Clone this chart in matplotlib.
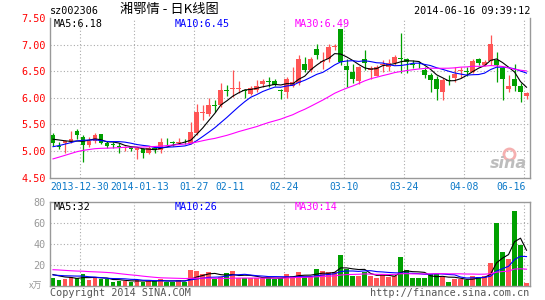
import numpy as np
import pandas as pd
import matplotlib
matplotlib.use("Agg")
import matplotlib.pyplot as plt


# --------- daily bars (sz002306) ---------

open_ = [5.29, 5.10, 5.15, 5.16, 5.37, 5.26, 5.11, 5.18, 5.31, 5.14,
         5.12, 5.10, 5.05, 5.07, 5.02, 5.03, 4.96, 5.06, 5.01, 5.17,
         5.16, 5.15, 5.19, 5.14, 5.33, 5.72, 5.70, 5.87, 5.87, 6.14,
         6.16, 6.16, 6.14, 6.07, 6.15, 6.25, 6.31, 6.32, 6.14, 6.11,
         6.22, 6.28, 6.64, 6.52, 6.91, 6.67, 6.72, 6.96, 7.29, 6.59,
         6.49, 6.32, 6.72, 6.53, 6.41, 6.62, 6.58, 6.66, 6.75, 6.72,
         6.64, 6.62, 6.53, 6.42, 6.36, 6.11, 6.34, 6.38, 6.50, 6.50,
         6.49, 6.73, 6.61, 6.69, 6.71, 6.56, 6.17, 6.36, 6.22, 6.03]
close = [5.14, 5.08, 5.18, 5.23, 5.30, 5.12, 5.18, 5.30, 5.15, 5.10,
         5.11, 5.08, 5.08, 5.03, 5.05, 4.96, 5.05, 5.02, 5.17, 5.16,
         5.15, 5.17, 5.18, 5.35, 5.73, 5.74, 5.86, 5.85, 6.14, 6.12,
         6.18, 6.18, 6.12, 6.18, 6.23, 6.32, 6.29, 6.24, 6.12, 6.36,
         6.30, 6.72, 6.53, 6.72, 6.80, 6.69, 6.96, 6.98, 6.68, 6.53,
         6.36, 6.58, 6.66, 6.56, 6.58, 6.64, 6.66, 6.77, 6.73, 6.68,
         6.62, 6.61, 6.42, 6.34, 6.17, 6.34, 6.32, 6.44, 6.52, 6.48,
         6.69, 6.65, 6.68, 7.01, 6.62, 6.35, 6.22, 6.22, 6.11, 6.09]
high = [5.34, 5.17, 5.20, 5.37, 5.41, 5.30, 5.26, 5.33, 5.32, 5.18,
        5.16, 5.14, 5.10, 5.09, 5.07, 5.05, 5.09, 5.08, 5.25, 5.25,
        5.19, 5.24, 5.23, 5.54, 5.89, 5.86, 6.00, 5.95, 6.27, 6.24,
        6.52, 6.31, 6.17, 6.22, 6.33, 6.36, 6.39, 6.35, 6.16, 6.39,
        6.58, 6.80, 6.77, 6.77, 7.01, 6.86, 7.02, 7.02, 7.29, 6.72,
        6.64, 6.60, 6.90, 6.60, 6.61, 6.71, 6.72, 6.80, 7.21, 6.74,
        6.71, 6.70, 6.57, 6.46, 6.40, 6.38, 6.42, 6.57, 6.57, 6.57,
        6.72, 6.74, 6.71, 7.18, 6.86, 6.57, 6.42, 6.63, 6.27, 6.10]
low = [5.10, 5.04, 4.96, 5.14, 5.22, 4.79, 5.08, 5.15, 5.13, 5.05,
       5.05, 4.97, 5.00, 5.00, 4.85, 4.87, 4.94, 4.96, 4.97, 5.10,
       5.10, 5.13, 5.13, 5.13, 5.30, 5.58, 5.66, 5.73, 5.83, 6.04,
       6.02, 6.08, 6.00, 6.05, 6.10, 6.21, 6.20, 6.22, 5.97, 6.00,
       6.20, 6.24, 6.49, 6.48, 6.72, 6.55, 6.68, 6.90, 6.61, 6.20,
       6.27, 6.25, 6.52, 6.36, 6.40, 6.49, 6.50, 6.62, 6.46, 6.46,
       6.56, 6.56, 6.37, 6.11, 5.96, 5.96, 6.24, 6.29, 6.38, 6.40,
       6.46, 6.62, 6.60, 6.62, 6.30, 5.96, 6.11, 6.13, 5.92, 5.98]
volume = [7.3, 5.7, 6.7, 8.9, 7.3, 11.1, 5.7, 7.9, 6.7, 6.3,
          4.1, 5.1, 4.8, 4.1, 5.7, 4.1, 4.8, 4.8, 6.3, 4.1,
          4.1, 5.4, 4.1, 14.9, 14.3, 11.1, 13.0, 6.3, 8.9, 12.1,
          14.3, 7.9, 7.9, 7.9, 7.9, 7.9, 7.9, 6.3, 7.9, 11.4,
          9.8, 13.7, 8.3, 8.3, 16.2, 14.3, 13.0, 13.0, 29.2, 16.2,
          9.8, 9.8, 13.7, 9.8, 7.3, 11.1, 8.3, 9.8, 27.3, 15.2,
          7.3, 7.3, 7.3, 11.1, 11.1, 8.9, 3.5, 6.7, 6.7, 5.7,
          9.5, 8.9, 9.8, 21.6, 59.7, 32.1, 25.4, 70.8, 38.4, 2.5]

# sessions before the first bar, estimated from where the MA lines start
prev_close = [4.10, 4.15, 4.20, 4.28, 4.38, 4.70, 4.82, 4.95, 5.02, 4.98,
              4.92, 4.88, 4.95, 5.00, 4.93, 4.86, 4.90, 4.95, 4.88, 4.85,
              4.88, 4.90, 4.95, 4.98, 4.99, 5.15, 5.26, 5.28, 5.27]
prev_volume = [14, 18, 20, 16, 15, 17, 15, 14, 16, 15,
               26, 24, 22, 21, 25, 22, 21, 20,
               9, 9, 10, 10, 10, 9, 11, 12, 12, 11, 12]

tick_idx = [5, 14, 24, 30, 39, 49, 59, 69, 79]
tick_text = ["2013-12-30", "2014-01-13", "01-27", "02-11", "02-24",
             "03-10", "03-24", "04-08", "06-16"]
grid_idx = [5, 14, 24, 39, 49, 59, 69, 79]

price_ticks = [4.5, 5.0, 5.5, 6.0, 6.5, 7.0, 7.5]
vol_ticks = [20, 40, 60, 80]

ma_periods = [5, 10, 30]
ma_colors = ["#000000", "#0000FF", "#FF00FF"]
ma_price_text = ["6.18", "6.45", "6.49"]
ma_vol_text = ["32", "26", "14"]

RED = "#FF5555"
GREEN = "#00A000"
GRID = "#AAAAAA"
FRAME = "#999999"
MONO = "DejaVu Sans Mono"
CJK = ["Noto Sans CJK SC", "DejaVu Sans"]

# --------- derived series ---------

n = len(close)
x = np.arange(n)
o = np.array(open_)
c = np.array(close)
up = c >= o
colors = np.where(up, RED, GREEN)

c_all = pd.Series(prev_close + close)
v_all = pd.Series(prev_volume + volume)
k0 = len(prev_close)
ma_price = [c_all.rolling(p).mean().values[k0:] for p in ma_periods]
ma_vol = [v_all.rolling(p).mean().values[k0:] for p in ma_periods]

# --------- figure ---------

W, H = 545, 300
fig = plt.figure(figsize=(W / 100, H / 100), dpi=100)
fig.patch.set_facecolor("white")


def box(l, t, r, b):
    return [l / W, 1 - b / H, (r - l) / W, (b - t) / H]


ax = fig.add_axes(box(50, 18, 529.5, 177.5))
axv = fig.add_axes(box(50, 201.5, 529.5, 286))

for a in (ax, axv):
    a.set_xlim(-0.5, n - 0.5)
    for s in a.spines.values():
        s.set_color(FRAME)
        s.set_linewidth(1.0)
    a.tick_params(length=0)
    a.set_xticks([])
    for g in grid_idx:
        a.axvline(g - 0.5, color=GRID, lw=0.8, ls=(0, (1, 2)), zorder=0)
ax.spines["top"].set_visible(False)

# price panel
ax.set_ylim(4.5, 7.5)
for p in price_ticks[1:-1]:
    ax.axhline(p, color=GRID, lw=0.8, ls=(0, (1, 2)), zorder=0)
ax.vlines(x, low, high, colors=colors, lw=0.9, zorder=2)
body_lo = np.minimum(o, c)
body_h = np.maximum(np.abs(c - o), 0.014)
ax.bar(x, body_h, bottom=body_lo, width=0.8, color=colors, lw=0, zorder=3)
for m, col in zip(ma_price, ma_colors):
    ax.plot(x, m, color=col, lw=0.8, zorder=4)

ax.set_yticks(price_ticks)
ax.set_yticklabels([f"{p:.2f}" for p in price_ticks], color="#FF0000",
                   fontfamily=MONO, fontsize=7.3)
ax.tick_params(axis="y", pad=3)

# date labels; the first two sit side by side at the left edge
for k, (t, lab) in enumerate(zip(tick_idx, tick_text)):
    ha, xp = "center", t - 0.5
    if k == 0:
        ha, xp = "left", -0.5
    elif k == 1:
        ha, xp = "left", 9.6
    elif t == n - 1:
        ha, xp = "right", n - 1.2
    ax.text(xp, -0.058, lab, transform=ax.get_xaxis_transform(), ha=ha,
            va="center", color="#0A78C8", fontfamily=MONO, fontsize=7.0)

label_x = [4 / 479.5, 125 / 479.5, 245 / 479.5]
for lx, p, txt, col in zip(label_x, ma_periods, ma_price_text, ma_colors):
    ax.text(lx, 0.962, f"MA{p}:{txt}", transform=ax.transAxes, ha="left",
            va="center", color=col, fontfamily=MONO, fontsize=7.3)

# sina watermark
ax.text(0.995, 0.04, "sina", transform=ax.transAxes, ha="right", va="bottom",
        color="#BDBDBD", fontsize=11.5, fontstyle="italic", fontweight="bold")
ax.plot([0.958], [0.15], "o", ms=8, mfc="none", mec="#F5B0B0", mew=2,
        transform=ax.transAxes)

# volume panel
axv.set_ylim(0, 80)
for v in vol_ticks[:-1]:
    axv.axhline(v, color=GRID, lw=0.8, ls=(0, (1, 2)), zorder=0)
axv.bar(x, volume, width=0.8, color=colors, lw=0, zorder=2)
for m, col in zip(ma_vol, ma_colors):
    axv.plot(x, m, color=col, lw=0.8, zorder=4)
axv.set_yticks(vol_ticks)
axv.set_yticklabels([str(v) for v in vol_ticks], color="#999999",
                    fontfamily=MONO, fontsize=7.3)
axv.tick_params(axis="y", pad=3)
axv.text(-0.015, 0.0, "x万", transform=axv.transAxes, ha="right",
         va="center", color="#999999", fontsize=6.5, family=CJK,
         fontstyle="italic")

for lx, p, txt, col in zip(label_x, ma_periods, ma_vol_text, ma_colors):
    axv.text(lx, 0.93, f"MA{p}:{txt}", transform=axv.transAxes, ha="left",
             va="center", color=col, fontfamily=MONO, fontsize=7.3)

# header and footer
fig.text(50 / W, 1 - 11 / H, "sz002306", ha="left", va="center",
         fontfamily=MONO, fontsize=7.3, color="black")
fig.text(120 / W, 1 - 10 / H, "湘鄂情 - 日K线图", ha="left", va="center",
         family=CJK, fontsize=9.5, color="black")
fig.text(530 / W, 1 - 11 / H, "2014-06-16 09:39:12", ha="right", va="center",
         fontfamily=MONO, fontsize=7.3, color="black")
fig.text(50 / W, 1 - 293 / H, "Copyright 2014 SINA.COM", ha="left",
         va="center", fontfamily=MONO, fontsize=7.3, color="#555555")
fig.text(529 / W, 1 - 293 / H, "http://finance.sina.com.cn", ha="right",
         va="center", fontfamily=MONO, fontsize=7.3, color="#555555")

fig.savefig("out.png", dpi=100)
